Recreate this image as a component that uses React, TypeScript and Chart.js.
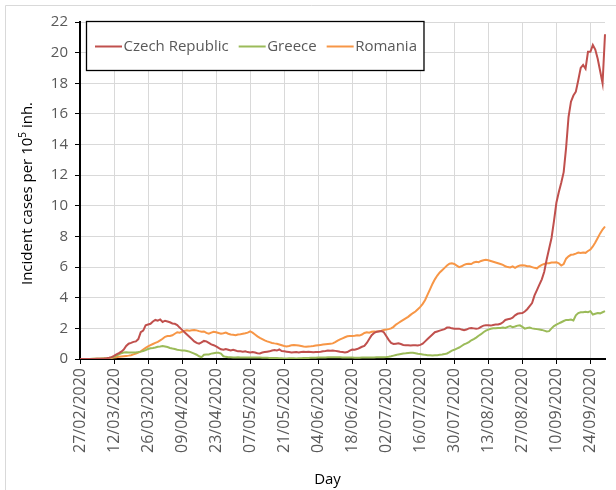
import React, { useEffect, useRef } from "react";
import { Chart, registerables } from "chart.js";

Chart.register(...registerables);

// ---- data -------------------------------------------------------------
const START_YEAR = 2020;
const START_MONTH = 1; // February (0-based)
const START_DAY = 27;
const DAY_COUNT = 217; // 27/02/2020 .. 30/09/2020

function buildDayLabels(): string[] {
  const out: string[] = [];
  for (let i = 0; i < DAY_COUNT; i++) {
    const d = new Date(Date.UTC(START_YEAR, START_MONTH, START_DAY + i));
    const dd = String(d.getUTCDate()).padStart(2, "0");
    const mm = String(d.getUTCMonth() + 1).padStart(2, "0");
    out.push(`${dd}/${mm}/${d.getUTCFullYear()}`);
  }
  return out;
}
const dayLabels = buildDayLabels();
const TICK_EVERY = 14;

const czechRepublic = [
  0, 0, 0, 0, 0, 0, 0, 0.01, 0.01, 0.02,
  0.03, 0.05, 0.08, 0.12, 0.2, 0.3, 0.38, 0.48, 0.62, 0.85,
  1.0, 1.05, 1.12, 1.15, 1.3, 1.75, 1.85, 2.2, 2.25, 2.3,
  2.45, 2.55, 2.5, 2.58, 2.42, 2.5, 2.45, 2.4, 2.32, 2.3,
  2.22, 2.05, 1.9, 1.75, 1.6, 1.45, 1.3, 1.15, 1.05, 1.0,
  1.08, 1.18, 1.15, 1.05, 0.95, 0.9, 0.82, 0.72, 0.63, 0.6,
  0.65, 0.6, 0.55, 0.6, 0.55, 0.5, 0.5, 0.48, 0.5, 0.45,
  0.43, 0.45, 0.42, 0.38, 0.36, 0.42, 0.45, 0.48, 0.5, 0.55,
  0.58, 0.55, 0.62, 0.52, 0.5, 0.48, 0.45, 0.42, 0.44, 0.45,
  0.43, 0.45, 0.47, 0.45, 0.48, 0.46, 0.44, 0.46, 0.45, 0.47,
  0.5, 0.52, 0.55, 0.54, 0.55, 0.53, 0.5, 0.47, 0.45, 0.42,
  0.45, 0.55, 0.62, 0.6, 0.65, 0.72, 0.8, 0.85, 1.05, 1.3,
  1.55, 1.7, 1.78, 1.8, 1.82, 1.75, 1.5, 1.25, 1.05, 0.98,
  1.0, 1.02, 0.98, 0.92, 0.9, 0.9, 0.88, 0.9, 0.9, 0.88,
  0.92, 1.0, 1.15, 1.3, 1.45, 1.6, 1.75, 1.8, 1.85, 1.9,
  1.95, 2.05, 2.05, 2.0, 1.98, 1.97, 1.98, 1.92, 1.88, 1.92,
  2.0, 2.02, 2.0, 1.97, 2.0, 2.1, 2.18, 2.2, 2.2, 2.18,
  2.22, 2.25, 2.25, 2.3, 2.4, 2.55, 2.6, 2.62, 2.7, 2.85,
  2.95, 2.98, 3.0, 3.1, 3.25, 3.45, 3.65, 4.15, 4.5, 4.85,
  5.2, 5.7, 6.5, 7.2, 7.9, 9.0, 10.2, 10.9, 11.5, 12.2,
  13.8, 15.8, 16.8, 17.2, 17.45, 18.2, 19.0, 19.2, 18.95, 20.05,
  20.05, 20.5, 20.2, 19.6, 18.8, 18.0, 21.2,
];

const greece = [
  0, 0, 0, 0, 0, 0.01, 0.01, 0.02, 0.02, 0.03,
  0.04, 0.05, 0.07, 0.1, 0.15, 0.22, 0.3, 0.38, 0.42, 0.44,
  0.43, 0.42, 0.42, 0.43, 0.45, 0.48, 0.52, 0.58, 0.65, 0.7,
  0.72, 0.75, 0.8, 0.82, 0.85, 0.82, 0.78, 0.72, 0.68, 0.65,
  0.6, 0.58, 0.55, 0.55, 0.52, 0.48, 0.42, 0.35, 0.28, 0.18,
  0.12, 0.28, 0.3, 0.3, 0.35, 0.38, 0.4, 0.4, 0.35, 0.18,
  0.14, 0.12, 0.12, 0.1, 0.1, 0.11, 0.1, 0.09, 0.1, 0.1,
  0.1, 0.09, 0.1, 0.1, 0.09, 0.08, 0.08, 0.08, 0.07, 0.07,
  0.06, 0.06, 0.05, 0.05, 0.04, 0.04, 0.05, 0.05, 0.05, 0.04,
  0.05, 0.05, 0.06, 0.06, 0.07, 0.08, 0.08, 0.08, 0.09, 0.09,
  0.1, 0.1, 0.11, 0.11, 0.12, 0.12, 0.12, 0.11, 0.1, 0.1,
  0.1, 0.09, 0.09, 0.08, 0.08, 0.08, 0.09, 0.09, 0.1, 0.1,
  0.1, 0.1, 0.11, 0.11, 0.12, 0.12, 0.13, 0.15, 0.18, 0.22,
  0.26, 0.3, 0.33, 0.36, 0.37, 0.39, 0.4, 0.41, 0.38, 0.35,
  0.33, 0.3, 0.27, 0.25, 0.24, 0.23, 0.24, 0.25, 0.27, 0.29,
  0.32, 0.36, 0.45, 0.55, 0.6, 0.68, 0.75, 0.85, 0.95, 1.02,
  1.1, 1.22, 1.3, 1.4, 1.52, 1.62, 1.75, 1.85, 1.92, 1.97,
  2.0, 2.0, 2.02, 2.02, 2.05, 2.03, 2.1, 2.15, 2.08, 2.12,
  2.18, 2.2, 2.1, 1.98, 2.02, 2.05, 2.0, 1.97, 1.95, 1.93,
  1.9, 1.85, 1.8, 1.82, 2.0, 2.15, 2.25, 2.32, 2.4, 2.48,
  2.55, 2.55, 2.58, 2.52, 2.85, 3.0, 3.05, 3.05, 3.08, 3.05,
  3.12, 2.9, 2.95, 3.0, 2.98, 3.05, 3.12,
];

const romania = [
  0, 0, 0, 0, 0, 0, 0.01, 0.01, 0.02, 0.02,
  0.03, 0.04, 0.05, 0.07, 0.1, 0.12, 0.14, 0.16, 0.18, 0.2,
  0.22, 0.25, 0.3, 0.35, 0.42, 0.5, 0.62, 0.72, 0.82, 0.9,
  0.98, 1.05, 1.12, 1.22, 1.32, 1.45, 1.5, 1.5, 1.55, 1.65,
  1.75, 1.72, 1.78, 1.85, 1.88, 1.85, 1.88, 1.9, 1.87, 1.82,
  1.78, 1.8, 1.7, 1.65, 1.72, 1.78, 1.75, 1.7, 1.65, 1.68,
  1.72, 1.65, 1.6, 1.58, 1.55, 1.6, 1.62, 1.65, 1.68, 1.72,
  1.8, 1.72, 1.6, 1.48, 1.38, 1.3, 1.22, 1.15, 1.1, 1.05,
  1.02, 1.0, 0.95, 0.9, 0.85, 0.82, 0.85, 0.9, 0.92, 0.9,
  0.88, 0.85, 0.82, 0.8, 0.82, 0.83, 0.85, 0.88, 0.9, 0.92,
  0.94, 0.96, 0.98, 1.0, 1.02, 1.1, 1.2, 1.28, 1.35, 1.42,
  1.48, 1.5, 1.5, 1.52, 1.55, 1.53, 1.6, 1.7, 1.75, 1.72,
  1.78, 1.8, 1.78, 1.82, 1.85, 1.9, 1.92, 1.95, 2.0, 2.1,
  2.25, 2.35, 2.45, 2.55, 2.65, 2.75, 2.88, 3.0, 3.1, 3.25,
  3.4, 3.6, 3.85, 4.2, 4.55, 4.9, 5.2, 5.45, 5.65, 5.8,
  5.95, 6.1, 6.22, 6.25, 6.2, 6.1, 6.0, 6.05, 6.15, 6.2,
  6.22, 6.2, 6.3, 6.35, 6.32, 6.4, 6.45, 6.48, 6.45, 6.4,
  6.35, 6.3, 6.25, 6.2, 6.15, 6.05, 6.0, 5.98, 6.05, 5.95,
  6.05, 6.1, 6.12, 6.1, 6.05, 6.05, 6.0, 5.95, 5.92, 6.05,
  6.15, 6.2, 6.25, 6.25, 6.3, 6.3, 6.32, 6.25, 6.1, 6.2,
  6.55, 6.7, 6.8, 6.82, 6.88, 6.95, 6.92, 6.95, 6.93, 7.05,
  7.15, 7.35, 7.6, 7.9, 8.2, 8.45, 8.65,
];

const seriesNames = ["Czech Republic", "Greece", "Romania"];
const seriesColors = ["#C0504D", "#9BBB59", "#F79646"];
const Y_MIN = 0;
const Y_MAX = 22;
const Y_STEP = 2;

const FONT = "'Open Sans', 'DejaVu Sans', sans-serif";
const GRID = "#d9d9d9";
const TEXT_GREY = "#595959";

// ---- decorations: legend box, axis titles, outer frame ----------------
const decorPlugin = {
  id: "decor",
  beforeDraw(chart: any) {
    const ctx = chart.ctx as CanvasRenderingContext2D;
    ctx.save();
    ctx.fillStyle = "#ffffff";
    ctx.fillRect(0, 0, chart.width, chart.height);
    ctx.strokeStyle = GRID;
    ctx.lineWidth = 1;
    ctx.beginPath();
    ctx.moveTo(5.5, chart.height + 2);
    ctx.lineTo(5.5, 5.5);
    ctx.lineTo(chart.width + 2, 5.5);
    ctx.stroke();
    ctx.restore();
  },
  afterDraw(chart: any) {
    const ctx = chart.ctx as CanvasRenderingContext2D;
    const area = chart.chartArea;
    ctx.save();

    // legend box
    const boxL = area.left + 6.5;
    const boxT = 21.5;
    const boxH = 49;
    const lineLen = 27;
    ctx.font = `15px ${FONT}`;
    const items = chart.data.datasets.map((ds: any) => ({
      label: ds.label as string,
      color: ds.borderColor as string,
      w: ctx.measureText(ds.label).width,
    }));
    let x = boxL + 8.5;
    const pos: number[] = [];
    items.forEach((it: any) => {
      pos.push(x);
      x += lineLen + 1.5 + it.w + 10;
    });
    const boxR = x - 10 + 7;
    ctx.fillStyle = "#ffffff";
    ctx.fillRect(boxL, boxT, boxR - boxL, boxH);
    ctx.strokeStyle = "#000000";
    ctx.lineWidth = 1.3;
    ctx.strokeRect(boxL, boxT, boxR - boxL, boxH);
    const cy = boxT + 25;
    items.forEach((it: any, i: number) => {
      ctx.strokeStyle = it.color;
      ctx.lineWidth = 2;
      ctx.beginPath();
      ctx.moveTo(pos[i], cy);
      ctx.lineTo(pos[i] + lineLen, cy);
      ctx.stroke();
      ctx.fillStyle = TEXT_GREY;
      ctx.textBaseline = "middle";
      ctx.textAlign = "left";
      ctx.fillText(it.label, pos[i] + lineLen + 1.5, cy);
    });

    // y axis title with superscript
    ctx.fillStyle = "#000000";
    const mainFont = `15px ${FONT}`;
    const supFont = `10px ${FONT}`;
    const p1 = "Incident cases per 10";
    const p2 = "5";
    const p3 = " inh.";
    ctx.font = mainFont;
    const w1 = ctx.measureText(p1).width;
    const w3 = ctx.measureText(p3).width;
    ctx.font = supFont;
    const w2 = ctx.measureText(p2).width;
    const total = w1 + w2 + w3;
    ctx.save();
    ctx.translate(28, (area.top + area.bottom) / 2 + 3);
    ctx.rotate(-Math.PI / 2);
    ctx.textBaseline = "middle";
    ctx.textAlign = "left";
    let tx = -total / 2;
    ctx.font = mainFont;
    ctx.fillText(p1, tx, 0);
    tx += w1;
    ctx.font = supFont;
    ctx.fillText(p2, tx, -5);
    tx += w2;
    ctx.font = mainFont;
    ctx.fillText(p3, tx, 0);
    ctx.restore();

    // x axis title
    ctx.font = `15px ${FONT}`;
    ctx.fillStyle = "#000000";
    ctx.textAlign = "center";
    ctx.textBaseline = "middle";
    ctx.fillText("Day", 327.5, 480);

    ctx.restore();
  },
};

export default function App() {
  const canvasRef = useRef<HTMLCanvasElement | null>(null);

  useEffect(() => {
    if (!canvasRef.current) return;
    const values = [czechRepublic, greece, romania];
    const chart = new Chart(canvasRef.current, {
      type: "line",
      data: {
        labels: dayLabels,
        datasets: seriesNames.map((name, i) => ({
          label: name,
          data: values[i],
          borderColor: seriesColors[i],
          backgroundColor: seriesColors[i],
          borderWidth: 2,
          pointRadius: 0,
          pointHoverRadius: 0,
          tension: 0,
          fill: false,
        })),
      },
      options: {
        animation: false,
        responsive: false,
        devicePixelRatio: 1,
        events: [],
        layout: { padding: { left: 0, top: 22, right: 11, bottom: 0 } },
        plugins: {
          legend: { display: false },
          tooltip: { enabled: false },
          title: { display: false },
        },
        scales: {
          x: {
            type: "category",
            offset: false,
            afterFit: (scale: any) => {
              scale.height = 131;
              scale.paddingLeft = 0;
              scale.paddingRight = 0;
            },
            grid: {
              color: (c: any) => (c.index % TICK_EVERY === 0 ? GRID : "rgba(0,0,0,0)"),
              tickColor: (c: any) => (c.index % TICK_EVERY === 0 ? "#000000" : "rgba(0,0,0,0)"),
              tickLength: 5,
              lineWidth: 1,
            },
            border: { color: "#000000", width: 2 },
            ticks: {
              autoSkip: false,
              minRotation: 90,
              maxRotation: 90,
              padding: 4,
              color: TEXT_GREY,
              font: { family: FONT, size: 16 },
              callback: (_v: any, index: number) =>
                index % TICK_EVERY === 0 ? dayLabels[index] : "",
            },
          },
          y: {
            min: Y_MIN,
            max: Y_MAX,
            afterFit: (scale: any) => {
              scale.width = 80;
              scale.paddingTop = 0;
              scale.paddingBottom = 0;
            },
            grid: {
              color: GRID,
              tickColor: "#000000",
              tickLength: 5,
              lineWidth: 1,
            },
            border: { color: "#000000", width: 2 },
            ticks: {
              stepSize: Y_STEP,
              padding: 7,
              color: TEXT_GREY,
              font: { family: FONT, size: 15 },
            },
          },
        },
      },
      plugins: [decorPlugin],
    });
    return () => chart.destroy();
  }, []);

  return (
    <div style={{ position: "fixed", left: 0, top: 0, width: 616, height: 490, background: "#fff" }}>
      <canvas ref={canvasRef} width={616} height={490} style={{ display: "block" }} />
    </div>
  );
}
